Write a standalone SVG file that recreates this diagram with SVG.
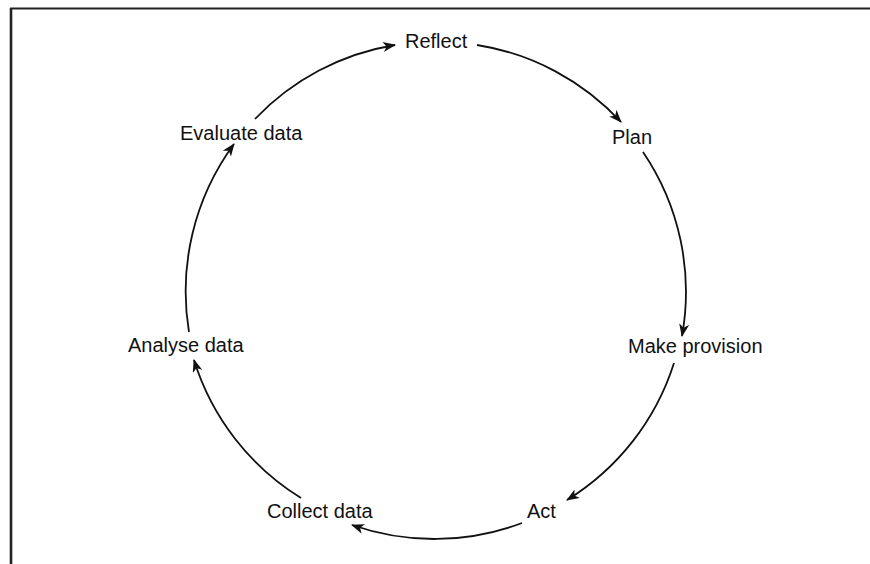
<svg xmlns="http://www.w3.org/2000/svg" width="870" height="564" viewBox="0 0 870 564">
<style>
.lbl{font-family:"Liberation Sans",Arial,sans-serif;font-size:20px;fill:#111}
.arc{fill:none;stroke:#111;stroke-width:1.8;marker-end:url(#ah)}
.frame{stroke:#222;fill:none}
</style>
<defs>
<marker id="ah" markerUnits="userSpaceOnUse" markerWidth="13" markerHeight="10" viewBox="0 0 13 10" refX="12" refY="5" orient="auto">
<path d="M0,0 L13,5 L0,10 L3.5,5 Z" fill="#111"/>
</marker>
</defs>
<rect width="870" height="564" fill="#fff"/>
<g id="frame">
<line class="frame" x1="11" y1="8" x2="11" y2="564" stroke-width="2.6"/>
<line class="frame" x1="10" y1="8.5" x2="870" y2="8.5" stroke-width="2"/>
</g>
<g id="connectors">
<path class="arc" d="M255,119 A249,249 0 0 1 395,45"/>
<path class="arc" d="M477,45 A249,249 0 0 1 621,122"/>
<path class="arc" d="M643,152 A249,249 0 0 1 682,336"/>
<path class="arc" d="M674,363 A249,249 0 0 1 567,500"/>
<path class="arc" d="M522,523 A249,249 0 0 1 352,525"/>
<path class="arc" d="M301,498 A249,249 0 0 1 194,360"/>
<path class="arc" d="M189,332 A249,249 0 0 1 234,144"/>
</g>
<g id="reflect"><text class="lbl" x="405" y="48">Reflect</text></g>
<g id="plan"><text class="lbl" x="612" y="144">Plan</text></g>
<g id="make-provision"><text class="lbl" x="628" y="353">Make provision</text></g>
<g id="act"><text class="lbl" x="527" y="518">Act</text></g>
<g id="collect-data"><text class="lbl" x="267" y="518">Collect data</text></g>
<g id="analyse-data"><text class="lbl" x="128" y="352">Analyse data</text></g>
<g id="evaluate-data"><text class="lbl" x="180" y="140">Evaluate data</text></g>
</svg>
